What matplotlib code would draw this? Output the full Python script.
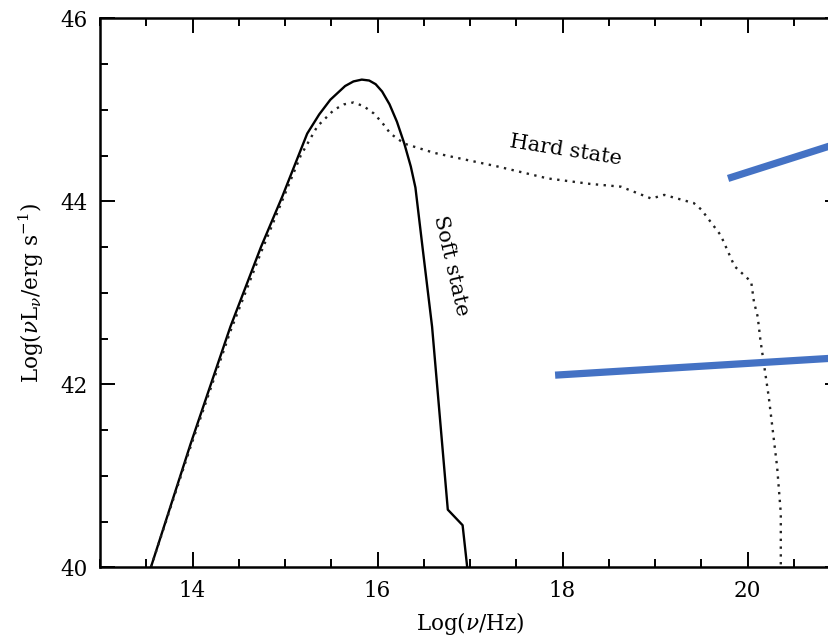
import numpy as np
import matplotlib
matplotlib.use("Agg")
import matplotlib.pyplot as plt
from matplotlib.ticker import MultipleLocator

# soft state (solid line)
soft_x = [13.55, 13.98, 14.41, 14.74, 14.97, 15.24, 15.37, 15.49, 15.65, 15.74,
          15.83, 15.91, 15.98, 16.05, 16.13, 16.21, 16.29, 16.36, 16.41, 16.49,
          16.59, 16.76, 16.92, 16.97]
soft_y = [40.00, 41.35, 42.63, 43.50, 44.05, 44.74, 44.95, 45.11, 45.26, 45.31,
          45.33, 45.32, 45.28, 45.20, 45.06, 44.87, 44.63, 44.38, 44.15, 43.47,
          42.63, 40.63, 40.46, 40.00]

# hard state (dotted line)
hard_x = [13.55, 13.98, 14.41, 14.74, 15.17, 15.35, 15.53, 15.64, 15.74, 15.85,
          15.96, 16.05, 16.14, 16.29, 16.61, 16.79, 17.30, 17.84, 18.30, 18.63,
          18.96, 19.10, 19.42, 19.50, 19.71, 19.86, 20.04, 20.07, 20.11, 20.14,
          20.23, 20.32, 20.36, 20.36]
hard_y = [40.00, 41.32, 42.58, 43.44, 44.50, 44.82, 45.00, 45.06, 45.08, 45.04,
          44.96, 44.86, 44.74, 44.63, 44.53, 44.49, 44.38, 44.25, 44.19, 44.16,
          44.03, 44.07, 43.98, 43.91, 43.63, 43.29, 43.12, 42.90, 42.74, 42.48,
          41.86, 41.10, 40.59, 40.00]

# overlaid blue segments
blue_upper_x = [19.79, 21.0]
blue_upper_y = [44.25, 44.64]
blue_lower_x = [17.92, 21.0]
blue_lower_y = [42.10, 42.29]

plt.rcParams['font.family'] = ['DejaVu Serif']
plt.rcParams['mathtext.fontset'] = 'dejavuserif'

fig = plt.figure(figsize=(8.29, 6.38), dpi=100)
ax = fig.add_axes([100 / 829, 70.7 / 638, 740 / 829, 549 / 638])

ax.plot(soft_x, soft_y, color='black', linewidth=1.7)
ax.plot(hard_x, hard_y, color='#222222', linewidth=1.7, linestyle=(0, (1, 2.3)))
ax.plot(blue_upper_x, blue_upper_y, color='#4472C4', linewidth=5.2,
        solid_capstyle='butt', clip_on=False)
ax.plot(blue_lower_x, blue_lower_y, color='#4472C4', linewidth=5.2,
        solid_capstyle='butt', clip_on=False)

ax.text(18.04, 44.56, "Hard state", rotation=-9, fontsize=15,
        ha='center', va='center', rotation_mode='anchor')
ax.text(16.79, 43.30, "Soft state", rotation=-77, fontsize=15,
        ha='center', va='center', rotation_mode='anchor')

ax.set_xlim(13, 21)
ax.set_ylim(40, 46)
ax.xaxis.set_major_locator(MultipleLocator(2))
ax.xaxis.set_minor_locator(MultipleLocator(0.5))
ax.yaxis.set_major_locator(MultipleLocator(2))
ax.yaxis.set_minor_locator(MultipleLocator(0.5))
ax.tick_params(which='both', direction='in', top=True, right=True, width=1.4)
ax.tick_params(which='major', length=11, labelsize=15.5, pad=9)
ax.tick_params(which='minor', length=6)
for s in ax.spines.values():
    s.set_linewidth(1.8)

ax.set_xlabel(r"Log($\nu$/Hz)", fontsize=15.5, labelpad=6)
ax.set_ylabel(r"Log($\nu$L$_\nu$/erg s$^{-1}$)", fontsize=15.5, labelpad=10)

fig.savefig("out.png", dpi=100)
